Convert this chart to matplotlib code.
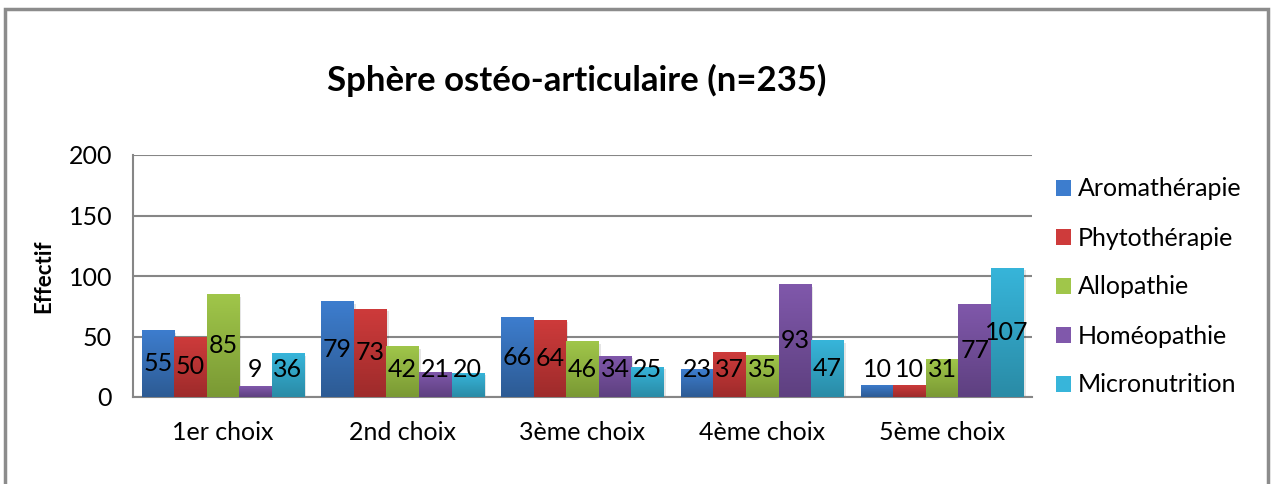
import matplotlib
matplotlib.use("Agg")
import matplotlib.pyplot as plt
import numpy as np
from matplotlib.patches import Rectangle
from matplotlib.colors import LinearSegmentedColormap

categories = ["1er choix", "2nd choix", "3ème choix", "4ème choix", "5ème choix"]
series_names = ["Aromathérapie", "Phytothérapie", "Allopathie", "Homéopathie", "Micronutrition"]
aromatherapie = [55, 79, 66, 23, 10]
phytotherapie = [50, 73, 64, 37, 10]
allopathie = [85, 42, 46, 35, 31]
homeopathie = [9, 21, 34, 93, 77]
micronutrition = [36, 20, 25, 47, 107]
series_values = [aromatherapie, phytotherapie, allopathie, homeopathie, micronutrition]
yticks = [0, 50, 100, 150, 200]

top_colors = ["#3D7DCE", "#CE3B3B", "#A0C64A", "#8058AB", "#37B5DA"]
bot_colors = ["#2D5B94", "#9E2B2B", "#7A9934", "#5E4080", "#2A8BA6"]

plt.rcParams['font.family'] = ['Lato', 'DejaVu Sans']

fig = plt.figure(figsize=(12.75, 4.84), dpi=100)
fig.patches.append(Rectangle((5/1275, -0.1), 1263/1275, 1.1 - 9/484, transform=fig.transFigure,
                             fill=False, edgecolor="#8C8C8C", linewidth=2.5, zorder=0))

ax = fig.add_axes([133/1275, 1 - 397/484, 899/1275, 242/484])
n = len(series_names)
width = 0.181
x = np.arange(len(categories))
grad = np.linspace(0, 1, 100).reshape(-1, 1)

for i, (name, vals) in enumerate(zip(series_names, series_values)):
    pos = x + (i - (n - 1) / 2) * width
    bars = ax.bar(pos, vals, width=width, color=top_colors[i], label=name, zorder=3, linewidth=0)
    cmap = LinearSegmentedColormap.from_list("g%d" % i, [bot_colors[i], top_colors[i]])
    for b, v in zip(bars, vals):
        ax.add_patch(Rectangle((b.get_x() + 0.012, 0 - 2.0), b.get_width(), v, color="#000000",
                               alpha=0.10, zorder=2, linewidth=0))
        im = ax.imshow(grad, cmap=cmap, origin="lower", aspect="auto",
                       extent=[b.get_x(), b.get_x() + b.get_width(), 0, v], zorder=3.5)
        im.set_clip_path(b)
        ax.text(b.get_x() + b.get_width() / 2, max(v / 2, 23), str(v), ha="center", va="center",
                fontsize=18, color="black", zorder=5)

ax.set_xlim(-0.5, len(categories) - 0.5)
ax.set_ylim(0, 200)
ax.set_yticks(yticks)
ax.set_yticklabels([str(t) for t in yticks], fontsize=18)
ax.set_xticks(x)
ax.set_xticklabels(categories, fontsize=18)
ax.tick_params(axis="x", length=0, pad=17)
ax.tick_params(axis="y", length=0, pad=15)
ax.yaxis.grid(True, color="#868686", linewidth=1.5, zorder=1)
ax.set_axisbelow(True)
for s in ["top", "right"]:
    ax.spines[s].set_visible(False)
for s in ["left", "bottom"]:
    ax.spines[s].set_color("#868686")
    ax.spines[s].set_linewidth(1.5)
ax.set_ylabel("Effectif", fontsize=16, fontweight="bold", labelpad=10)

fig.text(577/1275, 1 - 80/484, "Sphère ostéo-articulaire (n=235)", ha="center", va="center",
         fontsize=25, fontweight="bold")

handles, labels = ax.get_legend_handles_labels()
leg = fig.legend(handles, labels, loc="upper left", bbox_to_anchor=(1048/1275, 1 - 170/484),
                 frameon=False, fontsize=18, handlelength=0.6, handleheight=0.6,
                 labelspacing=1.04, handletextpad=0.3, borderaxespad=0, borderpad=0.3)
for h, c in zip(leg.legend_handles, top_colors):
    h.set_color(c)

fig.savefig("out.png", dpi=100)
